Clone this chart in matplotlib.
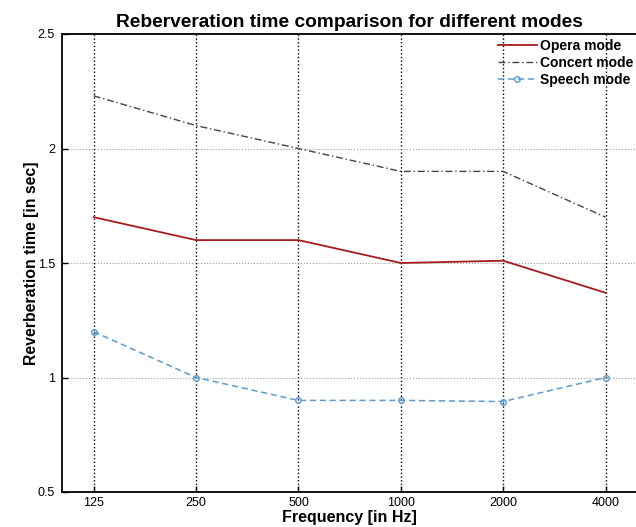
import matplotlib
matplotlib.use('Agg')
import matplotlib.pyplot as plt
from matplotlib.ticker import FuncFormatter

# frequency bands (plotted as equally spaced categories)
freq_labels = ['125', '250', '500', '1000', '2000', '4000']
opera = [1.70, 1.60, 1.60, 1.50, 1.51, 1.37]
concert = [2.23, 2.10, 2.00, 1.90, 1.90, 1.70]
speech = [1.20, 1.00, 0.90, 0.90, 0.895, 1.00]

x = list(range(1, len(freq_labels) + 1))

plt.rcParams['font.family'] = ['Liberation Sans', 'DejaVu Sans']

fig = plt.figure(figsize=(6.36, 5.27), dpi=100)
ax = fig.add_axes([62/636, 35/527, 1.0 - 62/636 + 0.002, 458/527])

ax.plot(x, opera, color='#a31d1d', lw=1.3, label='Opera mode')
ax.plot(x, concert, color='#444444', lw=1.0, ls=(0, (5, 2, 1, 2)), label='Concert mode')
ax.plot(x, speech, color='#5b9bd0', lw=1.1, ls=(0, (4, 2.5)), marker='o', ms=4,
        mfc='none', mec='#5b9bd0', label='Speech mode')

ax.set_xlim(0.69, 6.31)
ax.set_ylim(0.5, 2.5)
ax.set_xticks(x)
ax.set_xticklabels(freq_labels)
ax.set_yticks([0.5, 1, 1.5, 2, 2.5])
ax.yaxis.set_major_formatter(FuncFormatter(lambda v, p: ('%g' % v)))
ax.tick_params(direction='in', length=4, labelsize=9, width=1)
ax.tick_params(axis='y', pad=5)

ax.xaxis.grid(True, ls=':', color='black', lw=1.0)
ax.yaxis.grid(True, ls=':', color='#999999', lw=0.8)
for s in ax.spines.values():
    s.set_linewidth(1.3)
ax.spines['right'].set_visible(False)

ax.set_title('Reberveration time comparison for different modes', fontsize=13.8,
             fontweight='bold', pad=5)
ax.set_xlabel('Frequency [in Hz]', fontsize=11.5, fontweight='bold', labelpad=1)
ax.set_ylabel('Reverberation time [in sec]', fontsize=11.4, fontweight='bold', labelpad=-1)

leg = ax.legend(loc='upper left', bbox_to_anchor=(498/636, 1 - 39/527),
                bbox_transform=fig.transFigure, frameon=False,
                prop={'size': 10, 'weight': 'bold'}, handlelength=2.8,
                labelspacing=0.22, handletextpad=0.25, borderpad=0, borderaxespad=0)

fig.savefig('out.png', dpi=100)
